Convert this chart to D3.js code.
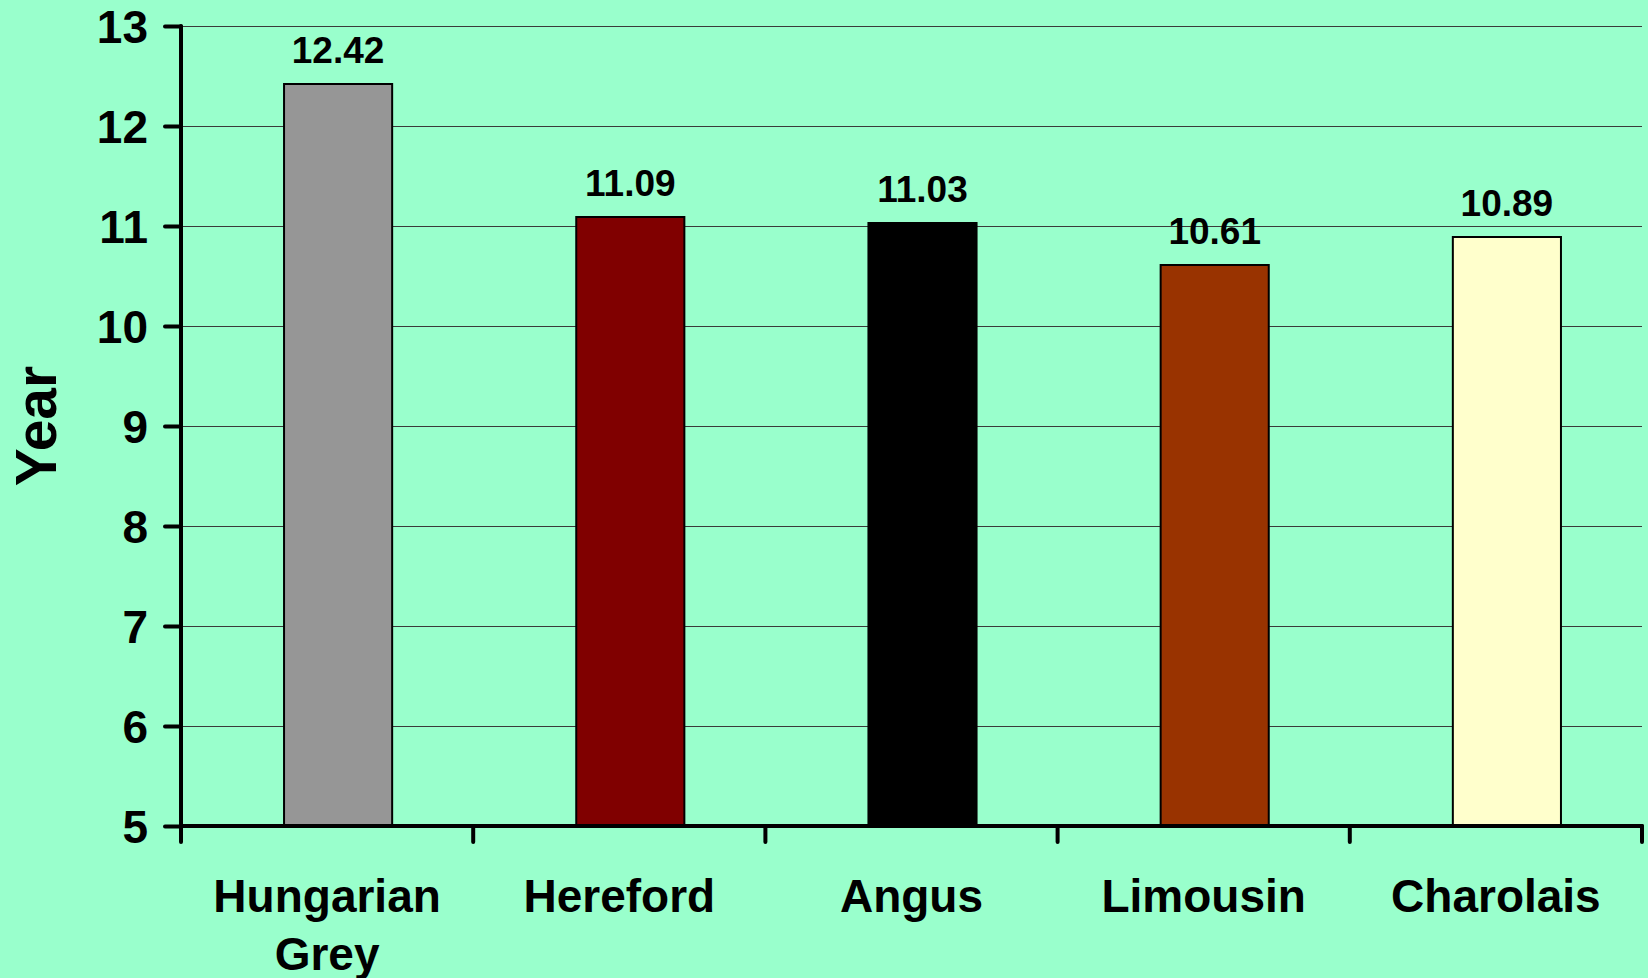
<!DOCTYPE html>
<html><head><meta charset="utf-8">
<script src="https://cdn.jsdelivr.net/npm/d3@7"></script>
<style>html,body{margin:0;padding:0;background:#99FFCC;}svg{display:block;}</style>
</head><body>
<svg id="chart" width="1648" height="978"></svg>
<script>
const categories = [["Hungarian","Grey"],["Hereford"],["Angus"],["Limousin"],["Charolais"]];
const values = [12.42, 11.09, 11.03, 10.61, 10.89];
const barColors = ["#969696","#800000","#000000","#993300","#FFFFCC"];
const yTicks = [5,6,7,8,9,10,11,12,13];
const yTitle = "Year";

const W = 1648, H = 978;
const m = {left:181, right:6, top:26, bottom:152};
const svg = d3.select("#chart");
svg.append("rect").attr("width",W).attr("height",H).attr("fill","#99FFCC");

const keys = categories.map((c,i)=>i);
const x = d3.scaleBand().domain(keys).range([m.left, W-m.right]).padding(0);
const y = d3.scaleLinear().domain([5,13]).range([H-m.bottom, m.top]);
const font = "'Liberation Sans', Arial, sans-serif";
const barW = x.step()*0.37;
const barOff = 11;

// gridlines
svg.append("g").selectAll("line").data(yTicks.filter(t=>t>5)).join("line")
  .attr("x1", m.left+2).attr("x2", W-m.right)
  .attr("y1", d=>y(d)+0.5).attr("y2", d=>y(d)+0.5)
  .attr("stroke","#3a3a3a").attr("stroke-width",1);

// bars
svg.append("g").selectAll("rect").data(values).join("rect")
  .attr("x",(d,i)=>x(i)+x.step()/2+barOff-barW/2)
  .attr("width",barW)
  .attr("y",d=>y(d))
  .attr("height",d=>y(5)-y(d))
  .attr("fill",(d,i)=>barColors[i])
  .attr("stroke","#000").attr("stroke-width",2);

// value labels
svg.append("g").selectAll("text").data(values).join("text")
  .attr("x",(d,i)=>x(i)+x.step()/2+barOff)
  .attr("y",d=>y(d)-21)
  .attr("text-anchor","middle")
  .attr("font-family",font).attr("font-weight","bold").attr("font-size",37)
  .attr("fill","#000")
  .text(d=>d.toFixed(2));

// y axis
const yAxis = d3.axisLeft(y).tickValues(yTicks).tickSize(16).tickPadding(17).tickFormat(d3.format("d"));
const gy = svg.append("g").attr("transform",`translate(${m.left},0)`).call(yAxis);
gy.select(".domain").remove();
gy.selectAll(".tick line").attr("stroke","#000").attr("stroke-width",4).attr("stroke-linecap","round");
gy.selectAll(".tick text").attr("font-family",font).attr("font-weight","bold").attr("font-size",46).attr("fill","#000").attr("dy","0.36em");
svg.append("line").attr("x1",m.left).attr("x2",m.left).attr("y1",y(13)).attr("y2",y(5)+16)
  .attr("stroke","#000").attr("stroke-width",4).attr("stroke-linecap","round");

// x axis
const xb = y(5);
svg.append("line").attr("x1",m.left).attr("x2",W-m.right).attr("y1",xb).attr("y2",xb)
  .attr("stroke","#000").attr("stroke-width",4).attr("stroke-linecap","round");
const bounds = keys.map(k=>x(k)).concat([x(keys[keys.length-1])+x.step()]);
svg.append("g").selectAll("line").data(bounds.slice(1)).join("line")
  .attr("x1",d=>d).attr("x2",d=>d).attr("y1",xb).attr("y2",xb+16)
  .attr("stroke","#000").attr("stroke-width",4).attr("stroke-linecap","round");

// category labels
const cl = svg.append("g").selectAll("text").data(categories).join("text")
  .attr("x",(d,i)=>x(i)+x.step()/2)
  .attr("y",912)
  .attr("text-anchor","middle")
  .attr("font-family",font).attr("font-weight","bold").attr("font-size",46).attr("fill","#000");
cl.each(function(d,i){
  const t = d3.select(this);
  d.forEach((line,j)=>{
    t.append("tspan").attr("x",x(i)+x.step()/2).attr("dy", j===0?0:58).text(line);
  });
});

// y title
svg.append("text")
  .attr("transform","translate(56,426) rotate(-90)")
  .attr("text-anchor","middle")
  .attr("font-family",font).attr("font-weight","bold").attr("font-size",57).attr("fill","#000")
  .text(yTitle);
</script>
</body></html>
